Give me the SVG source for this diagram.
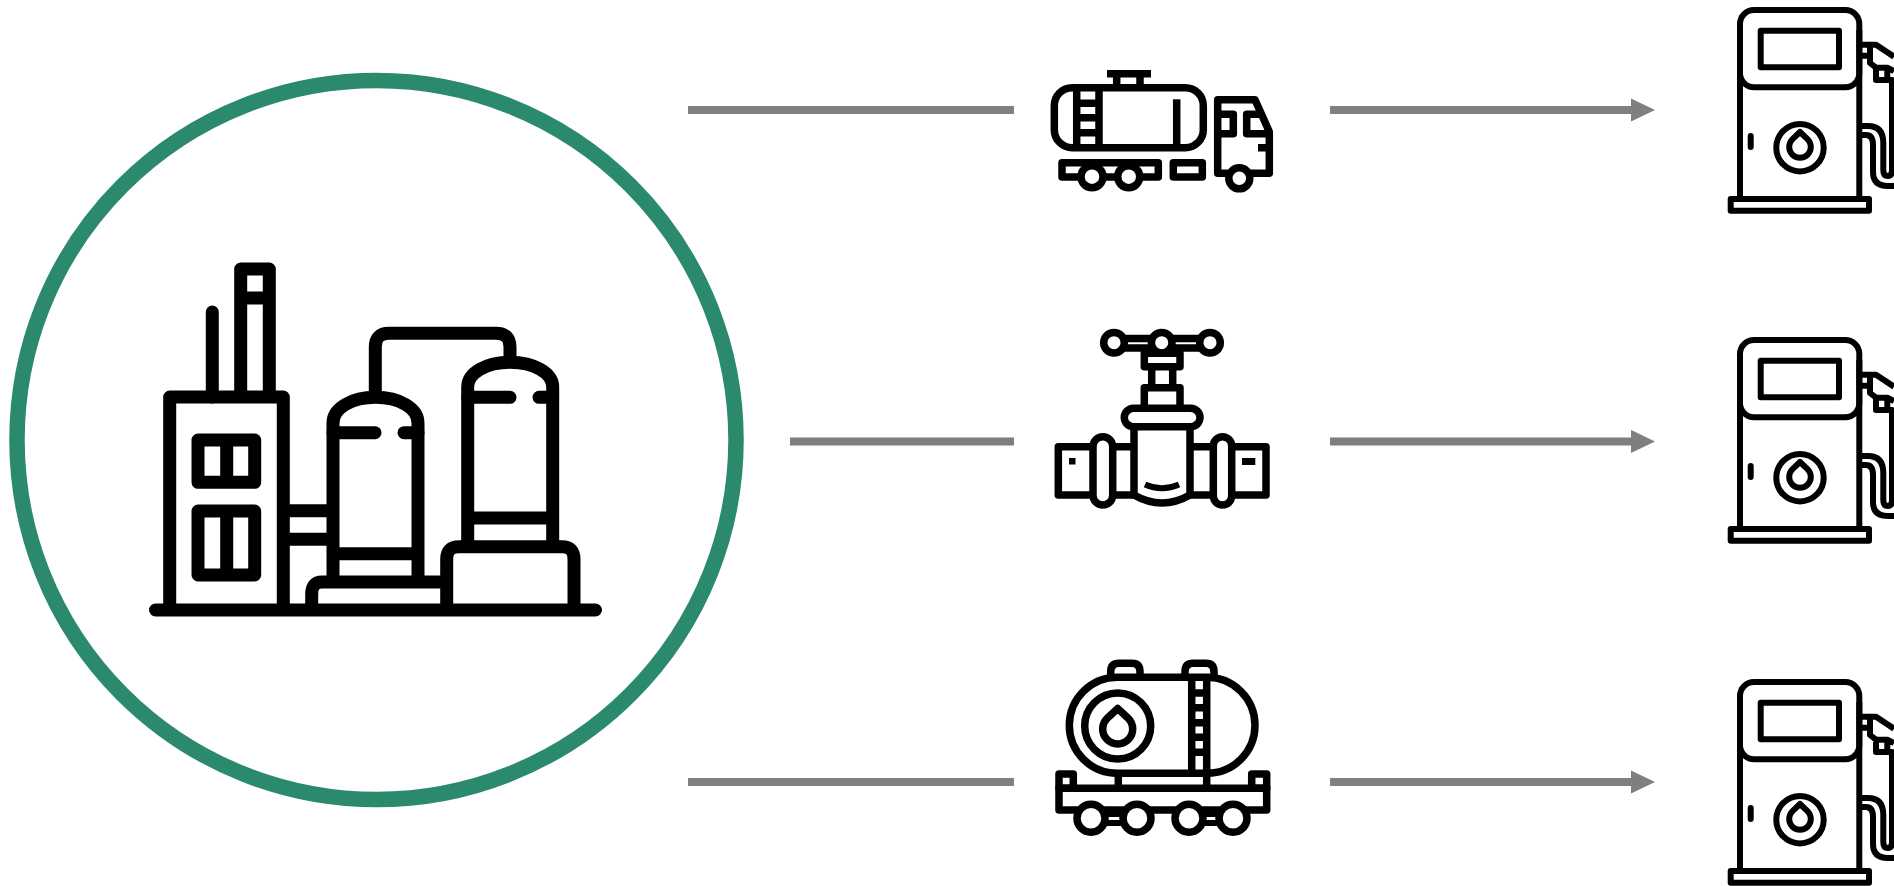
<svg xmlns="http://www.w3.org/2000/svg" width="1894" height="886" viewBox="0 0 1894 886">
<style>
.i{fill:none;stroke:#000;stroke-linejoin:round;stroke-linecap:butt}
.r{stroke-linecap:round}
.w{fill:#fff}
.f{stroke-width:13}
.t{stroke-width:7.500}
.p{stroke-width:6}
.c{stroke:#7f7f7f;stroke-width:8;fill:none}
</style>
<defs>
<marker id="ah" markerUnits="userSpaceOnUse" markerWidth="24" markerHeight="24" refX="0" refY="12" orient="auto"><path d="M0 .4L24 12L0 23.6Z" fill="#7f7f7f"/></marker>
<g id="pump" class="i p">
<rect x="1740" y="10" width="119.300" height="77.300" rx="14"/>
<path d="M1740 30V198M1859.300 30V198"/>
<rect x="1760.700" y="30.700" width="78.300" height="36.600"/>
<rect x="1730.700" y="199" width="138.300" height="11.700"/>
<circle cx="1800" cy="147.700" r="23.700"/>
<path d="M1800 132L1792.500 139.200A10.800 10.800 0 1 0 1807.500 139.200Z"/>
<path class="r" d="M1750.700 136V147"/>
<path d="M1862 44.700H1876L1894 56.700M1862 55.700H1870M1870 44.700V63L1876 67.700M1876 67.700V80H1887.300V67.700H1876M1887.300 67.700L1894 71M1887 80H1892V170Q1892 176 1888 176Q1883.300 176 1883.300 170V143Q1883.300 126 1868 126H1862M1862 135H1866Q1873 135 1873 145V172Q1873 186 1888 186H1894M1890 92.500H1894"/>
</g>
</defs>
<g id="connectors">
<path class="c" d="M688 110H1014"/>
<path class="c" d="M790 441.500H1014"/>
<path class="c" d="M688 782H1014"/>
<path class="c" marker-end="url(#ah)" d="M1330 110H1631"/>
<path class="c" marker-end="url(#ah)" d="M1330 441.500H1631"/>
<path class="c" marker-end="url(#ah)" d="M1330 782H1631"/>
</g>
<g id="refinery">
<circle cx="376.500" cy="440" r="359.500" fill="#fff" stroke="#2b8a6d" stroke-width="15.500"/>
<g class="i f">
<path class="r" d="M155.500 610H595.500"/>
<path d="M169.700 610V397H283.300V610"/>
<rect x="198" y="440" width="56.700" height="42.300"/>
<rect x="198" y="511" width="56.700" height="64"/>
<path d="M226.700 440V482M226.700 511V575"/>
<path class="r" d="M212.300 397V312"/>
<path d="M240.700 397V269H269.300V397M240.700 298H269.300"/>
<path d="M283 510.700H333M283 539.300H333"/>
<path d="M333 582V423C333 408 352 397.300 375.500 397.300C399 397.300 418 408 418 423V582"/>
<path d="M333 553.700H418"/>
<path class="r" d="M333 432.700H375M404 432.700H418"/>
<path d="M311.700 610V594Q311.700 582 322 582H446.700"/>
<path d="M446.700 610V559Q446.700 546.700 459 546.700H562Q574 546.700 574 559V610"/>
<path d="M467.700 546.700V387C467.700 373 486 362.300 510 362.300C534 362.300 552.700 373 552.700 387V546.700"/>
<path d="M467.700 518H552.700"/>
<path class="r" d="M467.700 397.300H510M539 397.300H552.700"/>
<path d="M375.300 397V347Q375.300 333.300 389 333.300H496Q510 333.300 510 347V362"/>
</g>
</g>
<g id="truck" class="i t">
<rect x="1054.300" y="87.700" width="149" height="60" rx="18"/>
<path d="M1116.700 73V87M1140 73V87M1107 73.700H1151"/>
<path d="M1076.700 88V148M1099 88V148M1077 103.300H1099M1077 117.700H1099M1077 132.700H1099"/>
<path d="M1176.700 99.300V148"/>
<rect x="1062" y="162.700" width="96.300" height="14.300"/>
<rect x="1173.300" y="162.700" width="29" height="14.300"/>
<circle class="w" cx="1092" cy="176.700" r="11"/>
<circle class="w" cx="1128.700" cy="176.700" r="11"/>
<path d="M1228 173.300H1217.700V99.700H1255L1269.300 131.700V173.300H1250"/>
<circle class="w" cx="1239.300" cy="178.300" r="10.500"/>
<path d="M1217.700 114.300H1233.300V133.700H1217.700M1259 114.300H1246.700V133.700H1269M1258 147.700H1269"/>
</g>
<g id="valve" class="i t">
<path d="M1124 338.500H1152M1172 338.500H1200M1124 348H1152M1172 348H1200"/>
<circle class="w" cx="1114" cy="342.700" r="10.300"/>
<circle class="w" cx="1161.700" cy="342.700" r="10.300"/>
<circle class="w" cx="1210" cy="342.700" r="10.300"/>
<rect x="1144.300" y="353.300" width="35.700" height="13.400"/>
<path d="M1151.700 367V387M1172.700 367V387"/>
<path d="M1144.300 408V387.700H1180V408"/>
<rect x="1124.300" y="408.300" width="75.700" height="18.400" rx="9.200"/>
<path d="M1134 427V495Q1162 511 1190 495V427"/>
<path d="M1145 484.500Q1162 492 1179 484.500" stroke-width="6"/>
<path d="M1134 446.700H1058.300V495H1134M1190 446.700H1266V495H1190"/>
<rect class="w" x="1093" y="436.700" width="19.700" height="68.300" rx="9.800"/>
<rect class="w" x="1213.300" y="436.700" width="18.400" height="68.300" rx="9.200"/>
<rect x="1069" y="458" width="6.500" height="6.500" fill="#000" stroke="none"/>
<rect x="1242" y="458" width="13.300" height="7" fill="#000" stroke="none"/>
</g>
<g id="railcar" class="i t">
<path d="M1110.700 677V672Q1110.700 663.300 1119 663.300H1132Q1140 663.300 1140 672V677M1185 677V672Q1185 663.300 1193 663.300H1206Q1214 663.300 1214 672V677"/>
<rect x="1069.300" y="677.300" width="185.700" height="96" rx="48"/>
<path d="M1191.700 677V773M1206.700 677V788M1192 693H1206M1192 707.700H1206M1192 722.700H1206M1192 737.300H1206M1192 752.300H1206M1118.300 773V788"/>
<circle cx="1117.700" cy="726" r="33"/>
<path d="M1117.700 708.500L1107.500 718A15 15 0 1 0 1127.900 718Z"/>
<rect x="1059" y="788.300" width="207.700" height="21.700"/>
<rect x="1059" y="774" width="14.300" height="14.300"/>
<rect x="1251.700" y="774" width="15" height="14.300"/>
<path d="M1105 814H1125M1105 823H1125M1200 814H1222M1200 823H1222" stroke-width="6"/>
<circle class="w" cx="1091" cy="818.300" r="14"/>
<circle class="w" cx="1137" cy="818.300" r="14"/>
<circle class="w" cx="1189" cy="818.300" r="14"/>
<circle class="w" cx="1233" cy="818.300" r="14"/>
</g>
<g id="pump1"><use href="#pump"/></g>
<g id="pump2"><use href="#pump" y="330"/></g>
<g id="pump3"><use href="#pump" y="672"/></g>
</svg>
